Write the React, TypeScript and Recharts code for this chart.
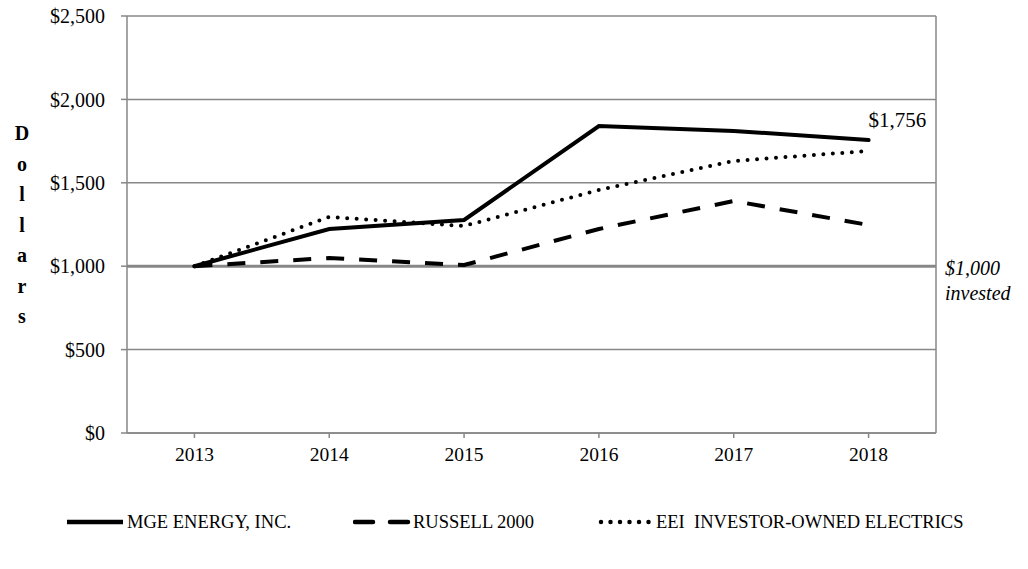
import * as React from "react";
import {
  LineChart,
  Line,
  XAxis,
  YAxis,
  CartesianGrid,
  ReferenceLine,
  Label,
} from "recharts";

const years = ["2013", "2014", "2015", "2016", "2017", "2018"];
const mgeValues = [1000, 1223, 1277, 1840, 1811, 1756];
const russellValues = [1000, 1049, 1007, 1223, 1391, 1247];
const eeiValues = [1000, 1295, 1241, 1457, 1631, 1691];
const yTicks = [0, 500, 1000, 1500, 2000, 2500];

const data = years.map((year, i) => ({
  year,
  mge: mgeValues[i],
  russell: russellValues[i],
  eei: eeiValues[i],
}));

const FONT = "'Liberation Serif', 'Times New Roman', serif";
const GRID = "#878787";

const formatDollar = (v: number) => "$" + v.toLocaleString("en-US");

const legendItems = [
  { name: "MGE ENERGY, INC.", left: 67, dash: undefined, cap: "butt", x1: 0, x2: 56 },
  { name: "RUSSELL 2000", left: 353, dash: "18 17", cap: "round", x1: 2, x2: 56 },
  { name: "EEI  INVESTOR-OWNED ELECTRICS", left: 596, dash: "0 9.5", cap: "round", x1: 5, x2: 56 },
];

const DollarsLabel = () => {
  const letters = "Dollars".split("");
  return (
    <g>
      {letters.map((ch, i) => (
        <text
          key={i}
          x={22}
          y={140 + i * 30.5}
          textAnchor="middle"
          fontFamily={FONT}
          fontWeight="bold"
          fontSize={20}
          fill="#000"
        >
          {ch}
        </text>
      ))}
    </g>
  );
};

const InvestedLabel = (props: any) => {
  const vb = props.viewBox || {};
  const x = (vb.x ?? 0) + (vb.width ?? 0) + 9;
  const y = vb.y ?? 0;
  return (
    <g fontFamily={FONT} fontStyle="italic" fontSize={20} fill="#000">
      <text x={x} y={y + 9}>$1,000</text>
      <text x={x} y={y + 34}>invested</text>
    </g>
  );
};

const EndLabel = (props: any) => {
  const { x, y, index } = props;
  if (index !== years.length - 1) return null;
  return (
    <text x={x} y={y - 13} fontFamily={FONT} fontSize={21} fill="#000">
      {formatDollar(mgeValues[index])}
    </text>
  );
};

export default function App() {
  return (
    <div style={{ position: "absolute", left: 0, top: 0, width: 1028, height: 569, background: "#fff" }}>
      <LineChart
        width={1028}
        height={569}
        data={data}
        margin={{ top: 16, right: 0, bottom: 0, left: 0 }}
      >
        <CartesianGrid vertical={false} stroke={GRID} strokeWidth={1.5} yAxisId="left" />
        <XAxis
          dataKey="year"
          scale="band"
          height={136}
          stroke={GRID}
          strokeWidth={1.5}
          tickLine={{ stroke: GRID }}
          tickSize={5}
          tick={{ fill: "#000", fontFamily: FONT, fontSize: 19.5 }}
          tickMargin={9}
        />
        <YAxis
          yAxisId="left"
          width={127}
          domain={[0, 2500]}
          ticks={yTicks}
          tickFormatter={formatDollar}
          stroke={GRID}
          strokeWidth={1.5}
          tickSize={6}
          tick={{ fill: "#000", fontFamily: FONT, fontSize: 20 }}
          tickMargin={16}
        >
          <Label content={<DollarsLabel />} />
        </YAxis>
        <YAxis
          yAxisId="right"
          orientation="right"
          width={92}
          domain={[0, 2500]}
          tick={false}
          tickLine={false}
          stroke={GRID}
          strokeWidth={1.5}
        />
        <ReferenceLine
          yAxisId="left"
          y={1000}
          stroke={GRID}
          strokeWidth={3}
          label={<InvestedLabel />}
        />
        <Line
          yAxisId="left"
          dataKey="russell"
          stroke="#000"
          strokeWidth={4}
          strokeDasharray="18 15"
          dot={false}
          isAnimationActive={false}
        />
        <Line
          yAxisId="left"
          dataKey="eei"
          stroke="#000"
          strokeWidth={4}
          strokeDasharray="0 9.5"
          strokeLinecap="round"
          dot={false}
          isAnimationActive={false}
        />
        <Line
          yAxisId="left"
          dataKey="mge"
          stroke="#000"
          strokeWidth={4}
          strokeLinecap="round"
          dot={false}
          label={<EndLabel />}
          isAnimationActive={false}
        />
      </LineChart>
      {legendItems.map((item) => (
        <div
          key={item.name}
          style={{
            position: "absolute",
            top: 510,
            left: item.left,
            display: "flex",
            alignItems: "center",
            fontFamily: FONT,
            fontSize: 18.5,
            color: "#000",
            whiteSpace: "pre",
          }}
        >
          <svg width={58} height={24} style={{ marginRight: 2 }}>
            <line
              x1={item.x1}
              y1={12}
              x2={item.x2}
              y2={12}
              stroke="#000"
              strokeWidth={4.5}
              strokeDasharray={item.dash}
              strokeLinecap={item.cap as any}
            />
          </svg>
          <span>{item.name}</span>
        </div>
      ))}
    </div>
  );
}
